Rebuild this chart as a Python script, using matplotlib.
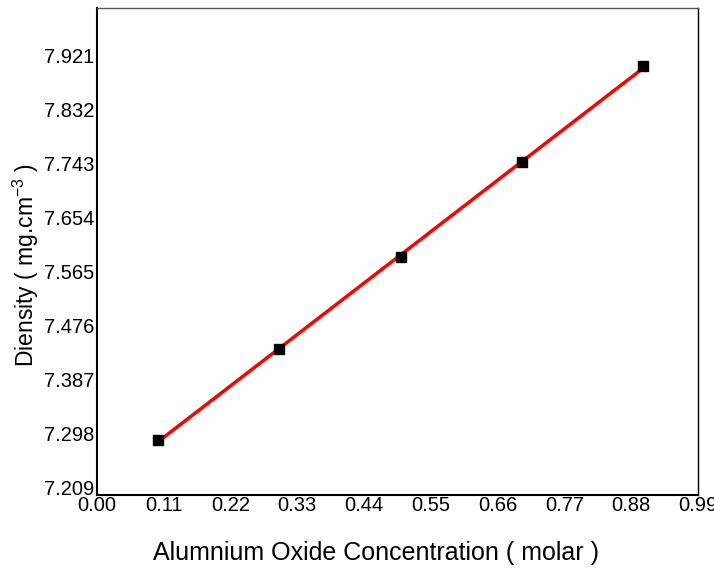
import numpy as np
import matplotlib
matplotlib.use("Agg")
import matplotlib.pyplot as plt

plt.rcParams['font.family'] = ['Liberation Sans', 'DejaVu Sans']
plt.rcParams['mathtext.fontset'] = 'custom'
plt.rcParams['mathtext.rm'] = 'Liberation Sans'

x_vals = [0.1, 0.3, 0.5, 0.7, 0.9]
y_vals = [7.2865, 7.4364, 7.588, 7.745, 7.903]
x_ticks = [0.00, 0.11, 0.22, 0.33, 0.44, 0.55, 0.66, 0.77, 0.88, 0.99]
y_ticks = [7.209, 7.298, 7.387, 7.476, 7.565, 7.654, 7.743, 7.832, 7.921]

fig = plt.figure(figsize=(7.14, 5.71), dpi=100)
ax = fig.add_axes([97/714, 1 - 495/571, (698-97)/714, (495-8)/571])

coef = np.polyfit(x_vals, y_vals, 1)
xf = np.array([x_vals[0], x_vals[-1]])
ax.plot(xf, np.polyval(coef, xf), color='red', lw=2.5, zorder=2)
ax.plot(x_vals, y_vals, 's', color='black', ms=7, zorder=3)

ax.set_xlim(0.0, 0.99)
ax.set_ylim(7.196, 7.999)
ax.set_xticks(x_ticks)
ax.set_xticklabels([f"{v:.2f}" for v in x_ticks])
ax.set_yticks(y_ticks)
ax.set_yticklabels([f"{v:.3f}" for v in y_ticks])
ax.tick_params(axis='both', which='major', length=0, labelsize=14.5, pad=2)
ax.tick_params(axis='x', pad=1)

for s in ['left', 'bottom']:
    ax.spines[s].set_linewidth(1.5)
for s in ['top', 'right']:
    ax.spines[s].set_linewidth(1.0)
ax.spines['top'].set_color('#555555')

ax.set_xlabel('Alumnium Oxide Concentration ( molar )', fontsize=18, labelpad=20)
ax.xaxis.set_label_coords(0.465, -0.095)
ax.set_ylabel('Diensity ( mg.cm$^{\\mathregular{-3}}$ )', fontsize=16.5)
ax.yaxis.set_label_coords(-0.093, 0.472)

fig.savefig('out.png', dpi=100)
